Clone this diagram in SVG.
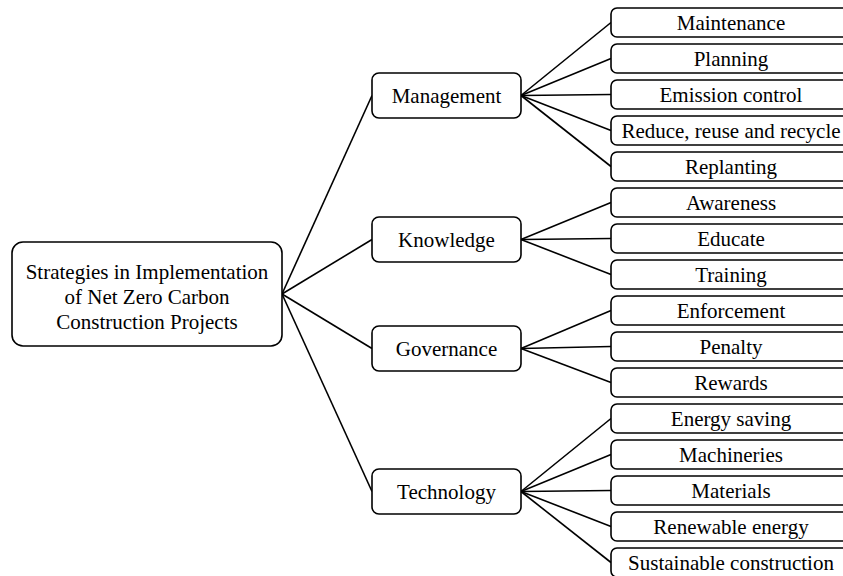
<svg xmlns="http://www.w3.org/2000/svg" width="843" height="576" viewBox="0 0 843 576">
<style>
rect{fill:#fff;stroke:#000;stroke-width:1.6}
.leaf rect{rx:6px}
text{font-family:"Liberation Serif","Times New Roman",serif;font-size:21px;fill:#000;text-anchor:middle}
#connectors line{stroke:#000;stroke-width:1.6}
</style>
<rect x="0" y="0" width="843" height="576" style="stroke:none"/>
<g id="connectors">
<line x1="282" y1="294" x2="372" y2="95.5"/>
<line x1="282" y1="294" x2="372" y2="239.5"/>
<line x1="282" y1="294" x2="372" y2="348.5"/>
<line x1="282" y1="294" x2="372" y2="491.5"/>
<line x1="521" y1="95.5" x2="611" y2="22.5"/>
<line x1="521" y1="95.5" x2="611" y2="58.5"/>
<line x1="521" y1="95.5" x2="611" y2="94.5"/>
<line x1="521" y1="95.5" x2="611" y2="130.5"/>
<line x1="521" y1="95.5" x2="611" y2="166.5"/>
<line x1="521" y1="239.5" x2="611" y2="202.5"/>
<line x1="521" y1="239.5" x2="611" y2="238.5"/>
<line x1="521" y1="239.5" x2="611" y2="274.5"/>
<line x1="521" y1="348.5" x2="611" y2="310.5"/>
<line x1="521" y1="348.5" x2="611" y2="346.5"/>
<line x1="521" y1="348.5" x2="611" y2="382.5"/>
<line x1="521" y1="491.5" x2="611" y2="418.5"/>
<line x1="521" y1="491.5" x2="611" y2="454.5"/>
<line x1="521" y1="491.5" x2="611" y2="490.5"/>
<line x1="521" y1="491.5" x2="611" y2="526.5"/>
<line x1="521" y1="491.5" x2="611" y2="562.5"/>
</g>
<g id="root">
<rect x="12" y="242" width="270" height="104" rx="11"/>
<text x="147" y="279">Strategies in Implementation</text>
<text x="147" y="304">of Net Zero Carbon</text>
<text x="147" y="329">Construction Projects</text>
</g>
<g id="management"><rect x="372" y="73" width="149" height="45" rx="7"/><text x="446.5" y="103">Management</text></g>
<g id="knowledge"><rect x="372" y="217" width="149" height="45" rx="7"/><text x="446.5" y="247">Knowledge</text></g>
<g id="governance"><rect x="372" y="326" width="149" height="45" rx="7"/><text x="446.5" y="356">Governance</text></g>
<g id="technology"><rect x="372" y="469" width="149" height="45" rx="7"/><text x="446.5" y="499">Technology</text></g>
<g id="maintenance" class="leaf"><rect x="611" y="8" width="260" height="29"/><text x="731" y="30">Maintenance</text></g>
<g id="planning" class="leaf"><rect x="611" y="44" width="260" height="29"/><text x="731" y="66">Planning</text></g>
<g id="emission" class="leaf"><rect x="611" y="80" width="260" height="29"/><text x="731" y="102">Emission control</text></g>
<g id="reduce" class="leaf"><rect x="611" y="116" width="260" height="29"/><text x="731" y="138">Reduce, reuse and recycle</text></g>
<g id="replanting" class="leaf"><rect x="611" y="152" width="260" height="29"/><text x="731" y="174">Replanting</text></g>
<g id="awareness" class="leaf"><rect x="611" y="188" width="260" height="29"/><text x="731" y="210">Awareness</text></g>
<g id="educate" class="leaf"><rect x="611" y="224" width="260" height="29"/><text x="731" y="246">Educate</text></g>
<g id="training" class="leaf"><rect x="611" y="260" width="260" height="29"/><text x="731" y="282">Training</text></g>
<g id="enforcement" class="leaf"><rect x="611" y="296" width="260" height="29"/><text x="731" y="318">Enforcement</text></g>
<g id="penalty" class="leaf"><rect x="611" y="332" width="260" height="29"/><text x="731" y="354">Penalty</text></g>
<g id="rewards" class="leaf"><rect x="611" y="368" width="260" height="29"/><text x="731" y="390">Rewards</text></g>
<g id="energysaving" class="leaf"><rect x="611" y="404" width="260" height="29"/><text x="731" y="426">Energy saving</text></g>
<g id="machineries" class="leaf"><rect x="611" y="440" width="260" height="29"/><text x="731" y="462">Machineries</text></g>
<g id="materials" class="leaf"><rect x="611" y="476" width="260" height="29"/><text x="731" y="498">Materials</text></g>
<g id="renewable" class="leaf"><rect x="611" y="512" width="260" height="29"/><text x="731" y="534">Renewable energy</text></g>
<g id="sustainable" class="leaf"><rect x="611" y="548" width="260" height="29"/><text x="731" y="570">Sustainable construction</text></g>
</svg>
